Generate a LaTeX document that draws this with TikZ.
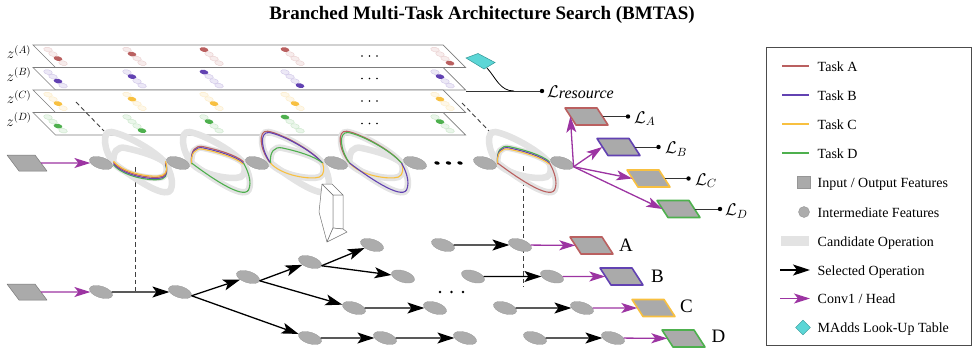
\RequirePackage{fix-cm}
\documentclass[tikz,border=0pt]{standalone}
\usepackage{fontspec}
\setmainfont{Liberation Serif}
\usetikzlibrary{shapes.geometric,arrows.meta,calc}

\definecolor{taskA}{RGB}{186,96,96}
\definecolor{taskB}{RGB}{98,66,178}
\definecolor{taskC}{RGB}{248,192,64}
\definecolor{taskD}{RGB}{78,176,78}
\definecolor{featgray}{RGB}{172,172,172}
\definecolor{featedge}{RGB}{150,150,150}
\definecolor{candgray}{RGB}{227,227,227}
\definecolor{headpurple}{RGB}{156,52,162}
\definecolor{lutcyan}{RGB}{92,214,214}
\definecolor{lutedge}{RGB}{50,150,150}
\definecolor{planeedge}{RGB}{125,125,125}
\definecolor{iofill}{RGB}{170,170,170}
\definecolor{ioedge}{RGB}{120,120,120}

\newcommand{\opcol}[4]{%
  \foreach \k in {1,...,4}{%
    \ifnum\k=#4\relax
      \fill[#1, shift={({#3+5*(\k-1)},{#2+4.6+4.5*(\k-1)})}, rotate=-12] (0,0) ellipse [x radius=4.4pt, y radius=2.3pt];
    \else
      \filldraw[fill=#1!12, draw=#1!30, line width=0.4pt, shift={({#3+5*(\k-1)},{#2+4.6+4.5*(\k-1)})}, rotate=-12] (0,0) ellipse [x radius=4.4pt, y radius=2.3pt];
    \fi
  }%
}

\tikzset{
  opub/.pic={\draw[pic actions] (-26,0) .. controls (-36,-13) and (-38,-32) .. (-28,-31) .. controls (-15,-29) and (15,-13) .. (26,0);},
  opus/.pic={\draw[pic actions] (-26,0) .. controls (-27,-11) and (-22,-17) .. (-14,-15) .. controls (0,-12) and (18,-7) .. (26,0);},
  opls/.pic={\draw[pic actions] (-26,0) .. controls (-15,13) and (15,17) .. (23,14) .. controls (28,12) and (28,5) .. (26,0);},
  oplb/.pic={\draw[pic actions] (-26,0) .. controls (-10,12) and (25,37) .. (31,27) .. controls (35,19) and (30,7) .. (26,0);},
}

\begin{document}
\begin{tikzpicture}[x=1pt,y=-1pt,
  feat/.style={ellipse, fill=featgray, draw=featedge, line width=0.3pt, minimum width=24pt, minimum height=11.5pt, inner sep=0pt, rotate=-18},
  inbox/.style={rectangle, minimum width=28pt, minimum height=16pt, inner sep=0pt},
  outbox/.style={rectangle, minimum width=32pt, minimum height=17pt, inner sep=0pt},
  inshape/.style={fill=iofill, draw=ioedge, line width=0.5pt, line join=round},
  outshape/.style={fill=iofill, draw=#1, line width=1.6pt, line join=round},
  selop/.style={line width=1.3pt, -{Stealth[length=17pt,width=11pt,inset=4pt]}},
  headop/.style={headpurple, line width=1.3pt, -{Stealth[length=16pt,width=10pt,inset=4pt]}},
  cand/.style={candgray, line width=6.5pt, line cap=round},
  tline/.style={line width=1.1pt},
  guide/.style={dash pattern=on 4.5pt off 3pt, line width=0.9pt, black!75},
  planeshape/.style={draw=planeedge, fill=white, line width=0.7pt},
  lossln/.style={line width=1pt, black!80},
  legtext/.style={font=\fontsize{14}{16}\selectfont, anchor=base west, inner sep=0pt},
  lbig/.style={font=\fontsize{19}{22}\selectfont, anchor=center, inner sep=0pt},
  lmath/.style={font=\fontsize{17}{20}\selectfont, anchor=base west, inner sep=0pt},
  zlab/.style={font=\fontsize{15}{17}\selectfont, inner sep=0pt},
  arr3d/.style={draw=black!55, fill=white, line width=0.5pt, line join=round},
]
\useasboundingbox (0,0) rectangle (976,348);

% title
\node[font=\fontsize{19}{23}\selectfont\bfseries, inner sep=0pt] (title) at (482,15) {Branched Multi-Task Architecture Search (BMTAS)};

% planes
\foreach \yy in {45,67.5,90,112.5}{\filldraw[planeshape] (33,\yy) -- (443,\yy) -- (465.5,\yy+22.5) -- (55.5,\yy+22.5) -- cycle;}
\foreach \xx/\s in {48/3,127/2,204/1,285/1,435/4}{\opcol{taskA}{45}{\xx}{\s}}
\foreach \xx/\s in {48/3,127/2,204/1,285/4,435/2}{\opcol{taskB}{67.5}{\xx}{\s}}
\foreach \xx/\s in {48/3,127/2,204/3,285/3,435/2}{\opcol{taskC}{90}{\xx}{\s}}
\foreach \xx/\s in {48/3,127/4,204/2,285/1,435/2}{\opcol{taskD}{112.5}{\xx}{\s}}
\foreach \yy in {56,78.5,101,123.5}{\foreach \dx in {362,369.5,377}{\fill (\dx,\yy) circle (0.9pt);}}

\node[zlab] (zA) at (19,52) {$z^{(A)}$};
\node[zlab] (zB) at (19,74.5) {$z^{(B)}$};
\node[zlab] (zC) at (19,97) {$z^{(C)}$};
\node[zlab] (zD) at (19,119.5) {$z^{(D)}$};

% look-up table and resource loss
\filldraw[fill=lutcyan, draw=lutedge, line width=0.5pt] (466,58) -- (478,53.5) -- (495,62.5) -- (484,69) -- cycle;
\coordinate (lutend) at (487,68);
\coordinate (rstart) at (466,91);
\coordinate (rjoin) at (514,91);
\coordinate (rdot) at (542,91);
\draw[line width=0.8pt] (lutend) .. controls (496,78) and (500,91) .. (rjoin);
\draw[lossln] (rstart) -- (rdot);
\fill (rdot) circle (2.2pt);
\node[lmath] (lres) at (547,97) {$\mathcal{L}$\raisebox{-1.5pt}{\fontsize{16}{18}\selectfont\itshape resource}};

% guides
\coordinate (g1a) at (76,102); \coordinate (g1b) at (104,131);
\coordinate (g2a) at (462,103); \coordinate (g2b) at (489,131);
\coordinate (v1a) at (135,167); \coordinate (v1b) at (135,291);
\coordinate (v2a) at (523,166); \coordinate (v2b) at (523,287);
\draw[guide] (g1a) -- (g1b);
\draw[guide] (g2a) -- (g2b);
\draw[guide] (v1a) -- (v1b);
\draw[guide] (v2a) -- (v2b);

% candidate operations
\foreach \cx in {139.5,217.5,296.5,375.5,523.5}{
  \pic[cand] at (\cx,163) {opub};
  \pic[cand] at (\cx,163) {oplb};
  \pic[cand] at (\cx,163) {opus};
  \pic[cand] at (\cx,163) {opls};
}
% cell 1
\pic[taskD, tline, yshift=-1.8pt] at (139.5,163) {opls};
\pic[taskB, tline, yshift=-0.6pt] at (139.5,163) {opls};
\pic[taskA, tline, yshift=0.6pt] at (139.5,163) {opls};
\pic[taskC, tline, yshift=1.8pt] at (139.5,163) {opls};
% cell 2
\pic[taskA, tline, yshift=1.3pt] at (217.5,163) {opus};
\pic[taskB, tline] at (217.5,163) {opus};
\pic[taskC, tline, yshift=-1.3pt] at (217.5,163) {opus};
\pic[taskD, tline] at (217.5,163) {oplb};
% cell 3
\pic[taskA, tline, xshift=-0.8pt, yshift=0.8pt] at (296.5,163) {opub};
\pic[taskB, tline, xshift=0.5pt, yshift=-0.5pt] at (296.5,163) {opub};
\pic[taskD, tline] at (296.5,163) {opus};
\pic[taskC, tline] at (296.5,163) {opls};
% cell 4
\pic[taskA, tline, xshift=-0.8pt, yshift=0.8pt] at (375.5,163) {opub};
\pic[taskD, tline, xshift=0.5pt, yshift=-0.5pt] at (375.5,163) {opub};
\pic[taskC, tline] at (375.5,163) {opls};
\pic[taskB, tline] at (375.5,163) {oplb};
% last cell
\pic[taskD, tline, yshift=1.3pt] at (523.5,163) {opus};
\pic[taskB, tline] at (523.5,163) {opus};
\pic[taskC, tline, yshift=-1.3pt] at (523.5,163) {opus};
\pic[taskA, tline] at (523.5,163) {oplb};

% super-graph nodes
\node[inbox] (t0) at (27,163) {};
\filldraw[inshape] ($(t0)+(-20,-8)$) -- ++(28,0) -- ++(12,16) -- ++(-28,0) -- cycle;
\foreach \nm/\xx in {t1/101,t2/178,t3/257,t4/336,t5/415,t6/485,t7/562}{\node[feat] (\nm) at (\xx,163) {};}
\draw[headop] (t0) -- (t1);
\foreach \dx in {437,448.5,460}{\fill[shift={(\dx,163)}, rotate=-15] (0,0) ellipse [x radius=2.7pt, y radius=1.7pt];}

% heads
\node[outbox] (tA) at (586.5,116.5) {};
\node[outbox] (tB) at (618.5,147) {};
\node[outbox] (tC) at (648.5,178.5) {};
\node[outbox] (tD) at (678.5,209) {};
\foreach \nm/\cl in {tA/taskA,tB/taskB,tC/taskC,tD/taskD}{\filldraw[outshape=\cl] ($(\nm)+(-21.5,-8.5)$) -- ++(32,0) -- ++(11,17) -- ++(-32,0) -- cycle;}
\foreach \nm in {tA,tB,tC,tD}{\draw[headop] (t7.east) -- (\nm.west);}
\coordinate (dA) at (628,116.5);
\coordinate (dB) at (658.5,147);
\coordinate (dC) at (688.5,178.5);
\coordinate (dD) at (720,209);
\foreach \nm/\dd in {tA/dA,tB/dB,tC/dC,tD/dD}{\draw[lossln] (\nm.east) -- (\dd); \fill (\dd) circle (2.2pt);}
\node[lmath] (lA) at (634,123) {$\mathcal{L}_A$};
\node[lmath] (lB) at (665,153.5) {$\mathcal{L}_B$};
\node[lmath] (lC) at (695,185) {$\mathcal{L}_C$};
\node[lmath] (lD) at (725,215.5) {$\mathcal{L}_D$};

% 3D arrow
\filldraw[arr3d] (322,184) -- (333,195) -- (333,228) -- (327,242) -- (319,212) -- cycle;
\filldraw[arr3d] (322,184) -- (332,184) -- (343,195) -- (333,195) -- cycle;
\filldraw[arr3d] (333,195) -- (343,195) -- (343,229) -- (333,228) -- cycle;
\filldraw[arr3d] (333,228) -- (343,229) -- (347,232) -- (327,242) -- cycle;

% branched architecture
\node[inbox] (b0) at (27,292) {};
\filldraw[inshape] ($(b0)+(-20,-8)$) -- ++(28,0) -- ++(12,16) -- ++(-28,0) -- cycle;
\foreach \nm/\xx/\yy in {b1/101/292,b2/180/292,b3/248/277,b4/310/262,b5/372/245,b6/403/276.5,b7/310/338,b8/354/308,b9/435/308,b10/385/338,b11/465/338,a1/443/245,a2/520/245,e1/473/276.5,e2/552/276.5,c1/505/308,c2/582/308,d1/535/338,d2/613/338}{\node[feat] (\nm) at (\xx,\yy) {};}
\draw[headop] (b0) -- (b1);
\draw[selop] (b1) -- (b2);
\draw[selop] (b2.east) -- (b3);
\draw[selop] (b2.east) -- (b7);
\draw[selop] (b3.east) -- (b4);
\draw[selop] (b3.east) -- (b8);
\draw[selop] (b4.east) -- (b5);
\draw[selop] (b4.east) -- (b6);
\draw[selop] (b8) -- (b9);
\draw[selop] (b7) -- (b10);
\draw[selop] (b10) -- (b11);
\draw[selop] (a1) -- (a2);
\draw[selop] (e1) -- (e2);
\draw[selop] (c1) -- (c2);
\draw[selop] (d1) -- (d2);
\foreach \dx in {440,451.5,463}{\fill (\dx,292) circle (1.4pt);}

\node[outbox] (oA) at (591.5,245.5) {};
\node[outbox] (oB) at (621.5,276.5) {};
\node[outbox] (oC) at (653.5,308) {};
\node[outbox] (oD) at (683.5,338.5) {};
\foreach \nm/\cl in {oA/taskA,oB/taskB,oC/taskC,oD/taskD}{\filldraw[outshape=\cl] ($(\nm)+(-21.5,-8.5)$) -- ++(32,0) -- ++(11,17) -- ++(-32,0) -- cycle;}
\draw[headop] (a2) -- (oA);
\draw[headop] (e2) -- (oB);
\draw[headop] (c2) -- (oC);
\draw[headop] (d2) -- (oD);
\node[lbig] (xA) at (626,245) {A};
\node[lbig] (xB) at (657.5,276.5) {B};
\node[lbig] (xC) at (686.5,306.5) {C};
\node[lbig] (xD) at (718.5,336.5) {D};

% legend
\draw[black!70, line width=0.7pt] (766,47) rectangle (971,345);
\foreach \cl/\yy/\tx in {taskA/66/Task A,taskB/95/Task B,taskC/124/Task C,taskD/153/Task D}{\draw[\cl, line width=1.1pt] (782,\yy) -- (809,\yy); \node[legtext] (leg\cl) at (817.5,\yy+5) {\tx};}
\filldraw[fill=iofill, draw=featedge, line width=0.4pt] (797,176.5) rectangle (810,188.5);
\node[legtext] (legio) at (817.5,187.5) {Input / Output Features};
\filldraw[fill=featgray, draw=featedge, line width=0.4pt] (804,212) circle (5.5pt);
\node[legtext] (legfeat) at (817.5,217) {Intermediate Features};
\fill[candgray] (781,236) rectangle (809,246);
\node[legtext] (legcand) at (817.5,246) {Candidate Operation};
\coordinate (ls1) at (780,270); \coordinate (ls2) at (810,270);
\draw[selop] (ls1) -- (ls2);
\node[legtext] (legsel) at (817.5,275) {Selected Operation};
\coordinate (lh1) at (780,298.5); \coordinate (lh2) at (810,298.5);
\draw[headop] (lh1) -- (lh2);
\node[legtext] (leghead) at (817.5,303.5) {Conv1 / Head};
\node[diamond, fill=lutcyan, draw=lutedge, line width=0.4pt, minimum width=15pt, minimum height=15pt, inner sep=0pt] (legdia) at (803,327.5) {};
\node[legtext] (leglut) at (817.5,332.5) {MAdds Look-Up Table};
\end{tikzpicture}
\end{document}
